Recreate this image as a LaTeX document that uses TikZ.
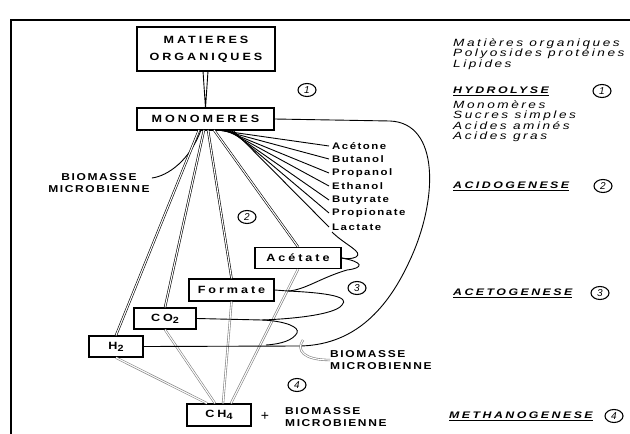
\documentclass[tikz,border=0pt]{standalone}
\usepackage{fontspec}
\setmainfont{Liberation Sans}
\newfontfamily\boitefont[FakeStretch=1.2, LetterSpace=28]{Liberation Sans}
\newfontfamily\listefont[FakeStretch=1.2, LetterSpace=16]{Liberation Sans}
\newfontfamily\notefont[FakeStretch=1.3, LetterSpace=24]{Liberation Sans}
\newfontfamily\etapefont[FakeStretch=1.3, LetterSpace=26]{Liberation Sans}
\usetikzlibrary{shapes.geometric, positioning, calc}

\newcommand{\indice}[1]{\raisebox{-2pt}{\fontsize{9}{9}\selectfont #1}}

\tikzset{
  boite/.style={draw, line width=1.4pt, inner sep=0pt, align=center,
    font=\boitefont\bfseries\fontsize{10.5}{17}\selectfont},
  produit/.style={anchor=west, inner sep=0pt,
    font=\listefont\bfseries\fontsize{9.5}{10}\selectfont},
  etiquette/.style={inner sep=0pt,
    font=\listefont\bfseries\fontsize{10}{11.5}\selectfont},
  notice/.style={anchor=west, inner sep=0pt, align=left,
    font=\notefont\itshape\fontsize{10.5}{10.5}\selectfont},
  etape/.style={anchor=west, inner sep=0pt,
    font=\etapefont\bfseries\itshape\fontsize{9.5}{10}\selectfont},
  numero/.style={draw, ellipse, line width=1.1pt, inner sep=0.5pt,
    minimum width=18pt, minimum height=13pt, font=\itshape\fontsize{10}{10}\selectfont},
  lien/.style={line width=0.9pt},
  paire/.style={double, double distance=1.1pt, line width=0.6pt},
}

\begin{document}
\begin{tikzpicture}[x=1pt, y=-1pt]
  \useasboundingbox (0,0) rectangle (630,434);
  % cadre
  \draw[line width=1.3pt] (11,434) -- (11,20) -- (630,20);

  % boites
  \node[boite, minimum width=138pt, minimum height=44pt] (mat) at (206,49) {MATIERES\\ORGANIQUES};
  \node[boite, minimum width=137pt, minimum height=22pt] (mono) at (205.5,119) {MONOMERES};
  \node[boite, minimum width=86pt, minimum height=21pt] (acet) at (298,258) {Acétate};
  \node[boite, minimum width=85pt, minimum height=22pt] (form) at (231.5,290) {Formate};
  \node[boite, minimum width=62pt, minimum height=21pt] (co2) at (165,318.5) {CO\indice{2}};
  \node[boite, minimum width=54pt, minimum height=21pt] (h2) at (116,346.5) {H\indice{2}};
  \node[boite, minimum width=64pt, minimum height=22pt] (ch4) at (219,415) {CH\indice{4}};

  % produits de l'acidogenese
  \node[produit] (p1) at (332,146) {Acétone};
  \node[produit] (p2) at (332,159) {Butanol};
  \node[produit] (p3) at (332,173) {Propanol};
  \node[produit] (p4) at (332,186) {Ethanol};
  \node[produit] (p5) at (332,200) {Butyrate};
  \node[produit] (p6) at (332,213) {Propionate};
  \node[produit] (p7) at (332,227) {Lactate};
  \foreach \i in {1,...,7}
    \draw[lien] ($(mono.south)+(14+2*\i,0)$) -- ([xshift=-3pt]p\i.west);

  % hydrolyse
  \draw[lien] (203,71) -- (205.5,108) -- (208,71);

  % biomasse gauche
  \node[etiquette, align=center] (bio1) at (99,183) {BIOMASSE\\MICROBIENNE};
  \draw[lien] (201,130) .. controls (190,160) and (168,176) .. ([xshift=2pt]bio1.north east |- 0,178);

  % monomeres vers produits
  \draw[paire] (199,130) -- (h2.north);
  \draw[paire] (204,130) -- (co2.north);
  \draw[paire] (208,130) -- (form.north);
  \draw[paire] (214,130) -- (acet.north);

  % vers methane
  \draw[paire, gray] (h2.south) -- ([xshift=-12pt]ch4.north);
  \draw[paire, gray] (co2.south) -- ([xshift=-4pt]ch4.north);
  \draw[paire, gray] (form.south) -- ([xshift=4pt]ch4.north);
  \draw[paire, gray] (acet.south) -- ([xshift=12pt]ch4.north);

  % grande boucle vers H2
  \draw[lien] (mono.east) -- (390,121) .. controls (440,123) and (438,200) .. (410,260)
    .. controls (385,315) and (350,345) .. (300,346) -- (h2.east);

  % boucles de l'acetogenese
  \coordinate (jf) at (288,291);
  \coordinate (jc) at (262,320);
  \coordinate (jh) at (266,345);
  \draw[lien] (332,232) .. controls (345,245) and (364,252) .. (356,257)
    .. controls (352,259) and (346,259) .. (acet.east);
  \draw[lien] (acet.east) .. controls (364,262) and (364,268) .. (347,270)
    .. controls (320,278) and (305,290) .. (jf);
  \draw[lien] (form.east) -- (jf) .. controls (330,293) and (350,297) .. (342,305)
    .. controls (335,315) and (290,319) .. (jc);
  \draw[lien] (co2.east) -- (jc) .. controls (285,321) and (300,327) .. (297,333)
    .. controls (293,340) and (282,344) .. (jh);

  % biomasse milieu
  \node[etiquette, anchor=west, align=left] (bio2) at (330,360) {BIOMASSE\\MICROBIENNE};
  \draw[paire, gray] (303,340) .. controls (296,350) and (303,360) .. (bio2.west);

  % methane + biomasse
  \node (plus) at (265,416) {\fontsize{14}{14}\selectfont +};
  \node[etiquette, anchor=west, align=left] (bio3) at (285,417) {BIOMASSE\\MICROBIENNE};

  % numeros d'etapes
  \node[numero] (n1) at (307,90) {1};
  \node[numero] (n2) at (247,217) {2};
  \node[numero] (n3) at (357,288) {3};
  \node[numero] (n4) at (297,385) {4};

  % colonne de droite
  \node[notice] (mo) at (453,54) {Matières organiques\\Polyosides protéines\\Lipides};
  \node[etape] (e1) at (453,91) {\underline{HYDROLYSE}};
  \node[numero] (m1) at (602,91) {1};
  \node[notice] (mm) at (453,121) {Monomères\\Sucres simples\\Acides aminés\\Acides gras};
  \node[etape] (e2) at (453,186) {\underline{ACIDOGENESE}};
  \node[numero] (m2) at (603,186) {2};
  \node[etape] (e3) at (453,293) {\underline{ACETOGENESE}};
  \node[numero] (m3) at (600,293) {3};
  \node[etape] (e4) at (449,416) {\underline{METHANOGENESE}};
  \node[numero] (m4) at (614,416) {4};
\end{tikzpicture}
\end{document}
